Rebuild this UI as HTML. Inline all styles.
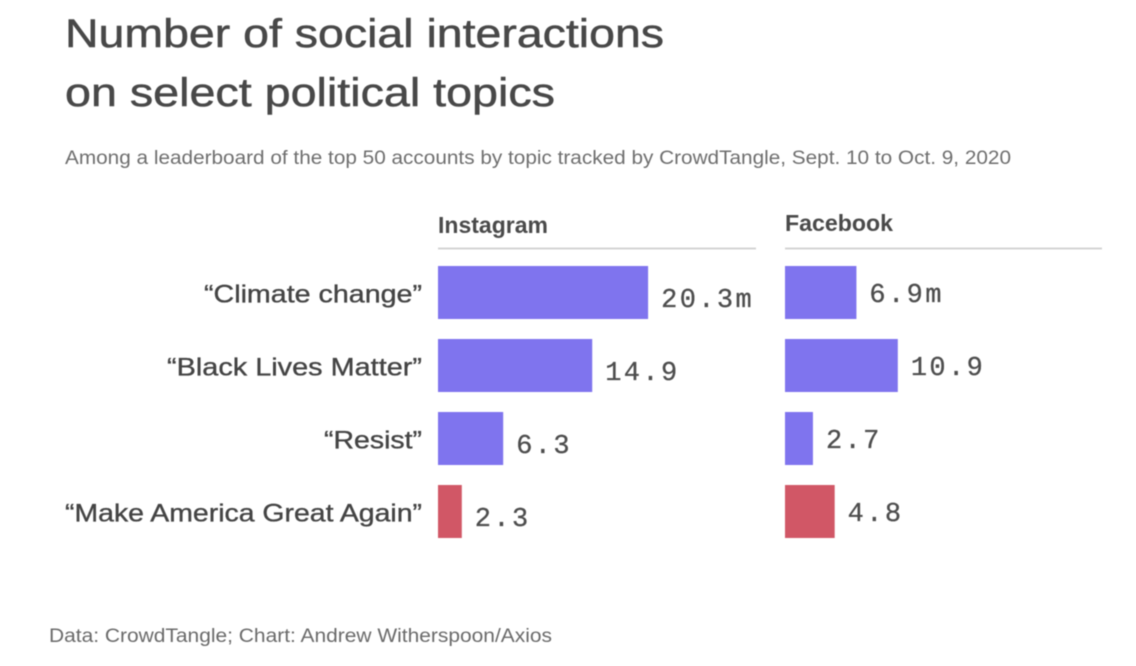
<!DOCTYPE html>
<html lang="en">
<head>
<meta charset="utf-8">
<title>Number of social interactions on select political topics</title>
<style>
html,body{margin:0;padding:0;background:#fff;width:1136px;height:666px;overflow:hidden}
svg{display:block;filter:blur(.5px)}
text{font-family:"Liberation Sans",sans-serif;fill:#4a4a4a}
.val{font-family:"Liberation Mono",monospace;font-size:27px;letter-spacing:2.4px;fill:#4d4d4d;stroke:#4d4d4d;stroke-width:.3px}
.cat{font-size:25px;fill:#444;text-anchor:end;stroke:#444;stroke-width:.35px}
.head{font-size:23px;font-weight:bold;fill:#4a4a4a}
.title{stroke:#484848;stroke-width:.5px}
</style>
</head>
<body>
<svg id="chart" xmlns="http://www.w3.org/2000/svg" width="1136" height="666" viewBox="0 0 1136 666">
<text class="title" x="65" y="47" font-size="40" textLength="599" lengthAdjust="spacingAndGlyphs" style="fill:#484848">Number of social interactions</text>
<text class="title" x="65" y="106" font-size="40" textLength="490" lengthAdjust="spacingAndGlyphs" style="fill:#484848">on select political topics</text>
<text x="65" y="164" font-size="19" textLength="946" lengthAdjust="spacingAndGlyphs" style="fill:#6e6e6e">Among a leaderboard of the top 50 accounts by topic tracked by CrowdTangle, Sept. 10 to Oct. 9, 2020</text>
<text class="head" x="438" y="233" textLength="110" lengthAdjust="spacingAndGlyphs">Instagram</text>
<line x1="438" x2="756" y1="248.5" y2="248.5" stroke="#d4d4d4" stroke-width="2"/>
<text class="head" x="785" y="231" textLength="108" lengthAdjust="spacingAndGlyphs">Facebook</text>
<line x1="785" x2="1102" y1="248.5" y2="248.5" stroke="#d4d4d4" stroke-width="2"/>
<g id="marks"></g>
<text x="49" y="642" font-size="19" textLength="503" lengthAdjust="spacingAndGlyphs" style="fill:#6a6a6a">Data: CrowdTangle; Chart: Andrew Witherspoon/Axios</text>
</svg>
<script>
var categories = ["“Climate change”", "“Black Lives Matter”", "“Resist”", "“Make America Great Again”"];
var categoryWidths = [218, 255, 98, 357];
var instagramValues = [20.3, 14.9, 6.3, 2.3];
var facebookValues = [6.9, 10.9, 2.7, 4.8];
var instagramLabels = ["20.3m", "14.9", "6.3", "2.3"];
var facebookLabels = ["6.9m", "10.9", "2.7", "4.8"];
var barColors = ["#7f74ee", "#7f74ee", "#7f74ee", "#d15766"];

var NS = "http://www.w3.org/2000/svg";
var marks = document.getElementById("marks");
var pxPerUnit = 10.35;
var rowTop = 266, rowStep = 73, barHeight = 53;

function xScale(value) { return value * pxPerUnit; }
function yScale(index) { return rowTop + index * rowStep; }

function drawPanel(panel, originX, values, labels, labelOffsetY) {
  values.forEach(function (value, i) {
    var rect = document.createElementNS(NS, "rect");
    
    
    rect.setAttribute("x", originX);
    rect.setAttribute("y", yScale(i));
    rect.setAttribute("width", xScale(value));
    rect.setAttribute("height", barHeight);
    rect.setAttribute("fill", barColors[i]);
    marks.appendChild(rect);

    var text = document.createElementNS(NS, "text");
    
    
    text.setAttribute("class", "val");
    text.setAttribute("x", originX + xScale(value) + 13);
    text.setAttribute("y", yScale(i) + barHeight / 2 + labelOffsetY);
    text.textContent = labels[i];
    marks.appendChild(text);
  });
}

categories.forEach(function (name, i) {
  var text = document.createElementNS(NS, "text");
  
  
  text.setAttribute("class", "cat");
  text.setAttribute("x", 422);
  text.setAttribute("y", yScale(i) + 36.5);
  text.setAttribute("textLength", categoryWidths[i]);
  text.setAttribute("lengthAdjust", "spacingAndGlyphs");
  text.textContent = name;
  marks.appendChild(text);
});

drawPanel("instagram", 438, instagramValues, instagramLabels, 14.5);
drawPanel("facebook", 785, facebookValues, facebookLabels, 9.5);
</script>
</body>
</html>
